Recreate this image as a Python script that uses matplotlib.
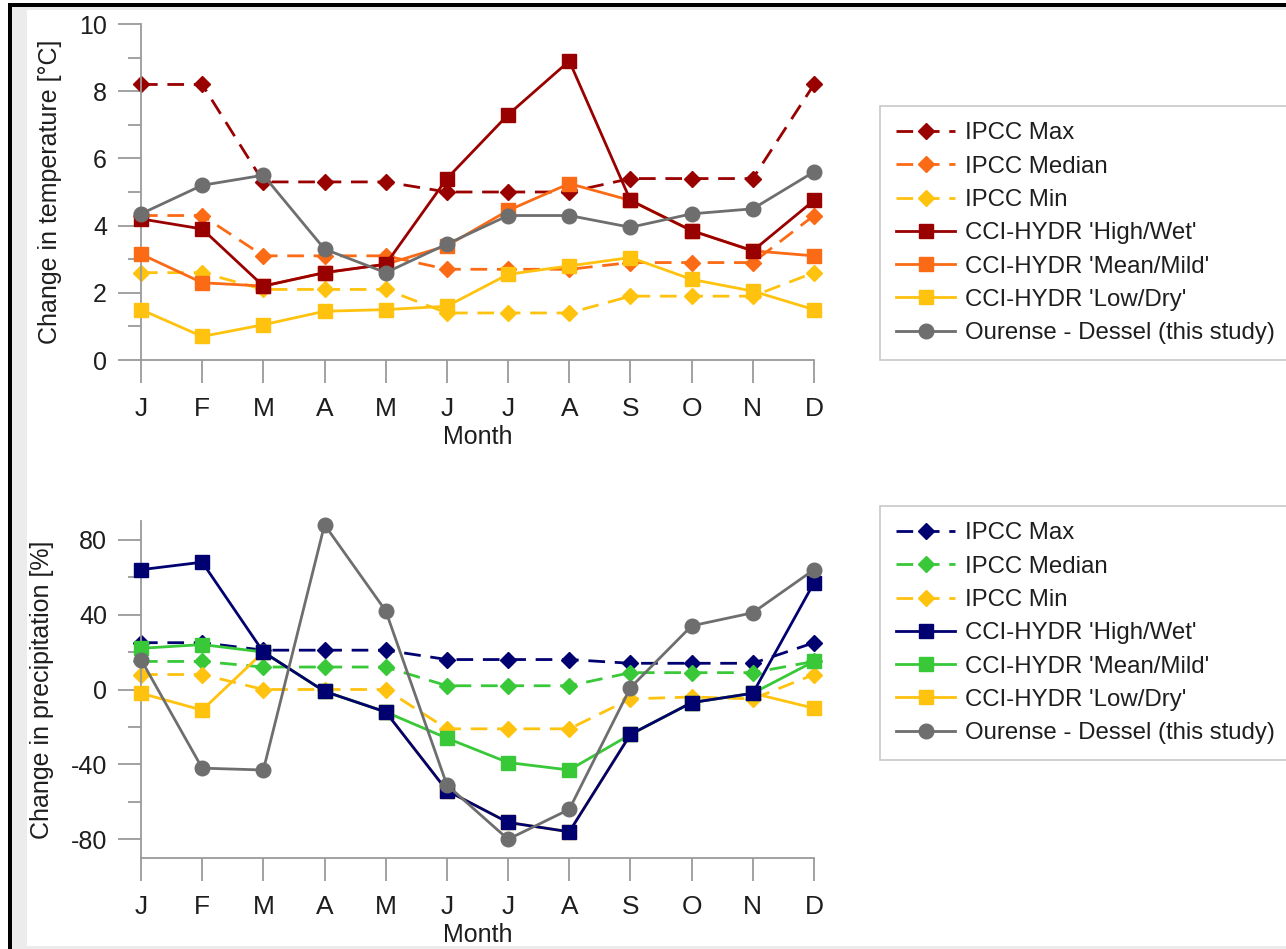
import matplotlib
matplotlib.use("Agg")
import matplotlib.pyplot as plt
from matplotlib.patches import Rectangle
from matplotlib.ticker import MultipleLocator

plt.rcParams['font.family'] = ['Liberation Sans', 'DejaVu Sans']
plt.rcParams['axes.unicode_minus'] = False

months = ['J', 'F', 'M', 'A', 'M', 'J', 'J', 'A', 'S', 'O', 'N', 'D']
labels = ["IPCC Max", "IPCC Median", "IPCC Min", "CCI-HYDR 'High/Wet'",
          "CCI-HYDR 'Mean/Mild'", "CCI-HYDR 'Low/Dry'", "Ourense - Dessel (this study)"]

# Temperature change [°C]
ipcc_max_t = [8.2, 8.2, 5.3, 5.3, 5.3, 5.0, 5.0, 5.0, 5.4, 5.4, 5.4, 8.2]
ipcc_med_t = [4.3, 4.3, 3.1, 3.1, 3.1, 2.7, 2.7, 2.7, 2.9, 2.9, 2.9, 4.3]
ipcc_min_t = [2.6, 2.6, 2.1, 2.1, 2.1, 1.4, 1.4, 1.4, 1.9, 1.9, 1.9, 2.6]
cci_high_t = [4.2, 3.9, 2.2, 2.6, 2.85, 5.4, 7.3, 8.9, 4.75, 3.85, 3.25, 4.75]
cci_mean_t = [3.15, 2.3, 2.2, 2.6, 2.85, 3.4, 4.45, 5.25, 4.75, 3.85, 3.25, 3.1]
cci_low_t = [1.5, 0.7, 1.05, 1.45, 1.5, 1.6, 2.55, 2.8, 3.05, 2.4, 2.05, 1.5]
ourense_t = [4.35, 5.2, 5.5, 3.3, 2.6, 3.45, 4.3, 4.3, 3.95, 4.35, 4.5, 5.6]

# Precipitation change [%]
ipcc_max_p = [25, 25, 21, 21, 21, 16, 16, 16, 14, 14, 14, 25]
ipcc_med_p = [15, 15, 12, 12, 12, 2, 2, 2, 9, 9, 9, 15]
ipcc_min_p = [8, 8, 0, 0, 0, -21, -21, -21, -5, -4, -5, 8]
cci_high_p = [64, 68, 20, -1, -12, -54, -71, -76, -24, -7, -2, 57]
cci_mean_p = [22, 24, 20, -1, -12, -26, -39, -43, -24, -7, -2, 15]
cci_low_p = [-2, -11, 20, -1, -12, -54, -71, -76, -24, -7, -2, -10]
ourense_p = [16, -42, -43, 88, 42, -51, -80, -64, 1, 34, 41, 64]

temp_colors = ['#990000', '#fb6a15', '#ffc20e', '#990000', '#fb6a15', '#ffc20e', '#6e6e6e']
prec_colors = ['#000070', '#38c838', '#ffc20e', '#000070', '#38c838', '#ffc20e', '#6e6e6e']

W, H = 1286, 949
fig = plt.figure(figsize=(W / 100, H / 100), dpi=100)
fig.patch.set_facecolor('white')

# screenshot frame
def px_rect(x0, y0, x1, y1, color):
    fig.add_artist(Rectangle((x0 / W, 1 - y1 / H), (x1 - x0) / W, (y1 - y0) / H,
                             transform=fig.transFigure, facecolor=color,
                             edgecolor='none', zorder=-10))

px_rect(12, 7, W, 10, '#ececec')
px_rect(12, 7, 27, H, '#ececec')
px_rect(12, 946, W, H, '#ececec')
px_rect(8, 3, W, 7, '#000000')
px_rect(8, 3, 12, H, '#000000')

x = list(range(len(months)))
axis_gray = '#9a9a9a'
text_col = '#1e1e1e'
FS = 18


def style_axes(ax, ylim, major, minor, ylabel):
    ax.set_xlim(0, 11)
    ax.set_ylim(*ylim)
    for s in ['top', 'right']:
        ax.spines[s].set_visible(False)
    for s in ['left', 'bottom']:
        ax.spines[s].set_color(axis_gray)
        ax.spines[s].set_linewidth(1.3)
    ax.set_xticks(x)
    ax.set_xticklabels(months)
    ax.yaxis.set_major_locator(MultipleLocator(major))
    ax.yaxis.set_minor_locator(MultipleLocator(minor))
    ax.tick_params(axis='x', length=16.5, width=1.3, color=axis_gray,
                   pad=10, labelsize=FS + 1, labelcolor=text_col)
    ax.tick_params(axis='y', which='major', length=16.5, width=1.3,
                   color=axis_gray, pad=8, labelsize=FS, labelcolor=text_col)
    ax.tick_params(axis='y', which='minor', length=9.5, width=1.3, color=axis_gray)
    ax.set_xlabel('Month', fontsize=FS, color=text_col, labelpad=3)
    ax.set_ylabel(ylabel, fontsize=FS, color=text_col, labelpad=12)
    ax.set_facecolor('none')


def draw(ax, series, colors):
    handles = []
    zorders = [2, 2.1, 2.2, 5, 4, 3, 6]
    for i, (vals, col) in enumerate(zip(series, colors)):
        if i < 3:
            ls, mk, ms = (0, (6, 3.5)), 'D', 8.2
        elif i < 6:
            ls, mk, ms = '-', 's', 9.5
        else:
            ls, mk, ms = '-', 'o', 10.5
        h, = ax.plot(x, vals, linestyle=ls, color=col, linewidth=2.0, marker=mk,
                     markersize=ms, markerfacecolor=col, markeredgecolor=col,
                     zorder=zorders[i], clip_on=False, label=labels[i])
        handles.append(h)
    return handles


ax1 = fig.add_axes([141 / W, 1 - 360 / H, 673 / W, 336 / H])
h1 = draw(ax1, [ipcc_max_t, ipcc_med_t, ipcc_min_t, cci_high_t, cci_mean_t,
                cci_low_t, ourense_t], temp_colors)
style_axes(ax1, (0, 10), 2, 1, 'Change in temperature [°C]')

ax2 = fig.add_axes([141 / W, 1 - 858 / H, 673 / W, 337 / H])
h2 = draw(ax2, [ipcc_max_p, ipcc_med_p, ipcc_min_p, cci_high_p, cci_mean_p,
                cci_low_p, ourense_p], prec_colors)
style_axes(ax2, (-90, 90), 40, 20, 'Change in precipitation [%]')
ax2.set_yticks([-80, -40, 0, 40, 80])

LFS = 17.3
for hs, anchor in [(h1, (880 / W, 1 - 106 / H)), (h2, (880 / W, 1 - 506 / H))]:
    leg = fig.legend(handles=hs, loc='upper left', bbox_to_anchor=anchor,
                     fontsize=LFS, frameon=True, fancybox=False, framealpha=1,
                     edgecolor='#c8c8c8', handlelength=2.45, handletextpad=0.4,
                     labelspacing=0.47, borderpad=0.68, borderaxespad=0)
    leg.get_frame().set_linewidth(1.2)
    for t in leg.get_texts():
        t.set_color(text_col)

fig.savefig('out.png', dpi=100)
